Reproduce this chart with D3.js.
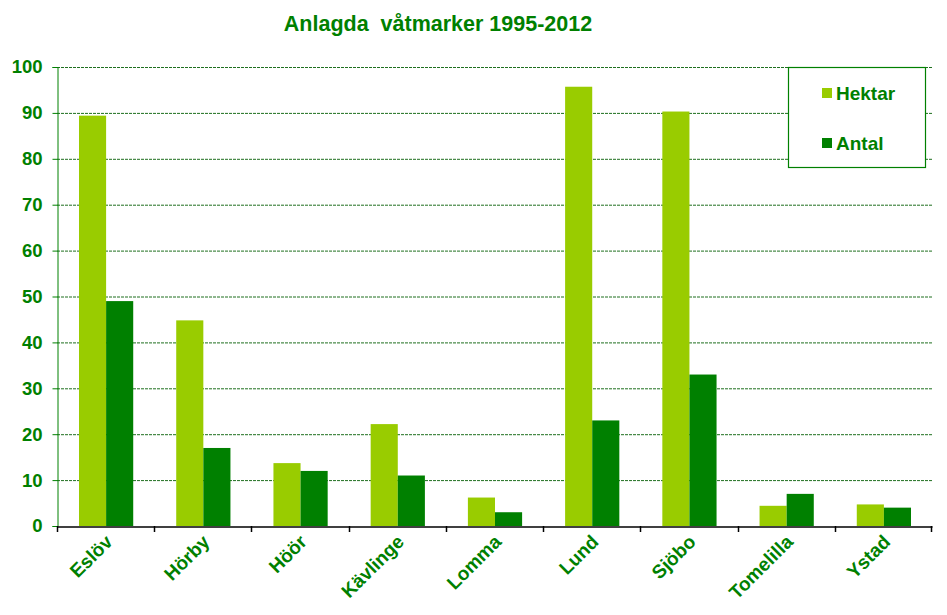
<!DOCTYPE html>
<html><head><meta charset="utf-8">
<script src="https://cdn.jsdelivr.net/npm/d3@7"></script>
<style>body{margin:0;background:#fff}text{font-family:Arial,"Liberation Sans",sans-serif;font-weight:bold}</style>
</head><body><svg id="c" width="947" height="615"></svg>
<script>
const categories = ["Eslöv","Hörby","Höör","Kävlinge","Lomma","Lund","Sjöbo","Tomelilla","Ystad"];
const hektar = [89.4, 44.8, 13.7, 22.2, 6.2, 95.7, 90.3, 4.4, 4.7];
const antal = [49, 17, 12, 11, 3, 23, 33, 7, 4];
const seriesNames = ["Hektar","Antal"];
const seriesColors = ["#99cc00","#008000"];
const yTicks = [0,10,20,30,40,50,60,70,80,90,100];
const title = "Anlagda  våtmarker 1995-2012";

const svg = d3.select("#c");
const L=57, R=932, T=67, B=526;
const x = d3.scaleBand().domain(categories).range([L,R]).paddingInner(0).paddingOuter(0);
const y = d3.scaleLinear().domain([0,100]).range([B,T]);
const inner = d3.scaleBand().domain(seriesNames).range([22, x.bandwidth()-21]);
const txt = "#008000";

svg.append("text").attr("x",438).attr("y",31).attr("text-anchor","middle")
  .attr("font-size",21.5).attr("fill",txt).attr("xml:space","preserve").text(title);

// grid
svg.append("g").selectAll("line").data(yTicks.filter(d=>d>0)).join("line")
  .attr("x1",L).attr("x2",R).attr("y1",d=>y(d)+0.5).attr("y2",d=>y(d)+0.5)
  .attr("stroke","#1f6f1f").attr("stroke-width",1).attr("stroke-dasharray","3,1");

// bars
const data = categories.map((c,i)=>({c, v:[hektar[i],antal[i]]}));
const g = svg.append("g").selectAll("g").data(data).join("g").attr("transform",d=>`translate(${x(d.c)},0)`);
g.selectAll("rect").data(d=>d.v.map((v,j)=>({v,s:seriesNames[j],col:seriesColors[j]}))).join("rect")
  .attr("x",d=>inner(d.s)).attr("width",inner.bandwidth())
  .attr("y",d=>y(d.v)).attr("height",d=>B-y(d.v)).attr("fill",d=>d.col);

// y axis
const ya = svg.append("g").attr("transform",`translate(${L+0.5},0)`)
  .call(d3.axisLeft(y).tickValues(yTicks).tickSize(5).tickPadding(10));
ya.select(".domain").attr("stroke","#008000");
ya.selectAll(".tick line").attr("stroke","#008000");
ya.selectAll(".tick text").attr("fill",txt).attr("font-size",18.5).attr("font-family","Arial, 'Liberation Sans', sans-serif").attr("font-weight","bold");

// x axis
const xa = svg.append("g").attr("transform",`translate(0,${B+0.5})`)
  .call(d3.axisBottom(x).tickSize(0).tickFormat(""));
xa.select(".domain").attr("stroke","#000").attr("stroke-width",1.5);
svg.append("g").selectAll("line").data(categories.concat(["__end"])).join("line")
  .attr("x1",(d,i)=>i<categories.length? Math.round(x(d))+0.5 : R-0.5)
  .attr("x2",(d,i)=>i<categories.length? Math.round(x(d))+0.5 : R-0.5)
  .attr("y1",B).attr("y2",B+6).attr("stroke","#000").attr("stroke-width",1.5);
svg.append("g").selectAll("text").data(categories).join("text")
  .attr("transform",d=>`translate(${x(d)+x.bandwidth()/2+8},${B+17}) rotate(-45)`)
  .attr("text-anchor","end").attr("font-size",19).attr("fill",txt).text(d=>d);

// legend
const lg = svg.append("g");
lg.append("rect").attr("x",788.5).attr("y",67.5).attr("width",137).attr("height",100)
  .attr("fill","#fff").attr("stroke","#008000").attr("stroke-width",1.2);
const items = lg.selectAll("g").data(seriesNames).join("g")
  .attr("transform",(d,i)=>`translate(822,${88+i*50})`);
items.append("rect").attr("width",10).attr("height",10).attr("fill",(d,i)=>seriesColors[i]);
items.append("text").attr("x",14).attr("y",12).attr("font-size",19).attr("fill",txt).text(d=>d);
</script></body></html>
